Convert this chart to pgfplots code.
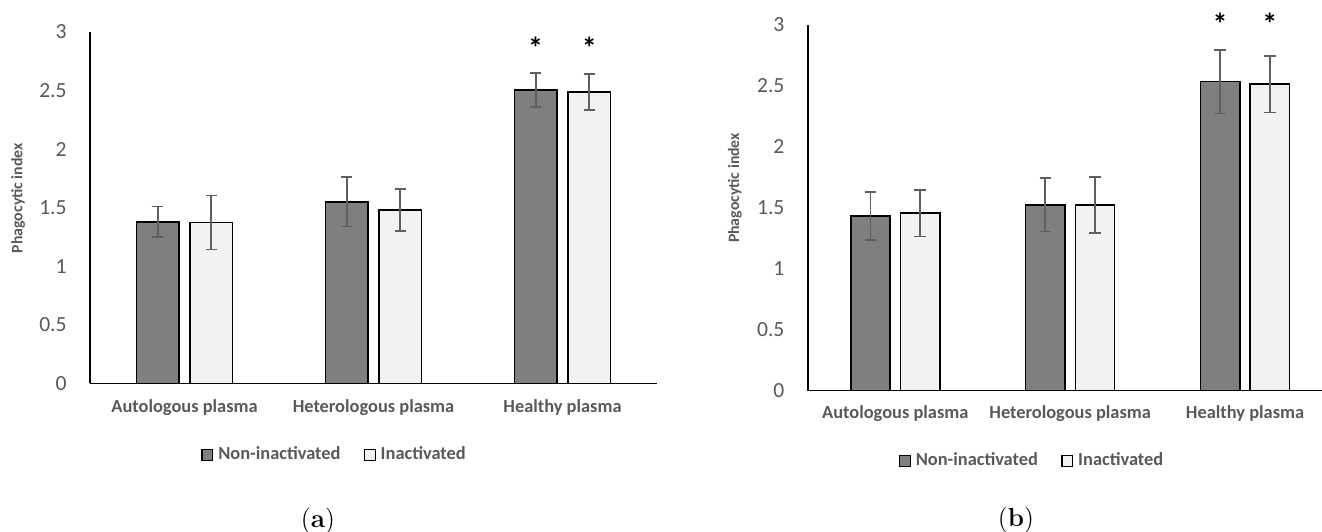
\documentclass[border=0pt]{standalone}
\usepackage{fontspec}
\setmainfont{Carlito}
\newfontfamily\capfont{Latin Modern Roman}
\usepackage{pgfplots}
\pgfplotsset{compat=1.18}
\definecolor{darkbar}{HTML}{7F7F7F}
\definecolor{lightbar}{HTML}{F2F2F2}
\definecolor{txt}{HTML}{595959}
\definecolor{errc}{HTML}{5F5F5F}

\tikzset{star/.style={anchor=base, font=\bfseries\fontsize{15}{16}\selectfont}}

\pgfplotsset{
  panel/.style={
    scale only axis, xmin=-0.5, ymin=0, ymax=3,
    axis lines*=left,
    axis line style={-, black, line width=0.8pt},
    major tick length=0pt,
    ytick={0,0.5,1,1.5,2,2.5,3},
    yticklabels={0,0.5,1,1.5,2,2.5,3},
    yticklabel style={anchor=east, inner sep=0pt, xshift=-11.5pt,
      font=\fontsize{10.8}{12}\selectfont, text=txt},
    xtick={0,1,2},
    xticklabels={Autologous plasma, Heterologous plasma, Healthy plasma},
    xticklabel style={anchor=base, inner sep=0pt,
      font=\bfseries\fontsize{9.2}{11}\selectfont, text=txt},
    ylabel={Phagocytic index},
    ylabel style={rotate=0, anchor=center, font=\bfseries\fontsize{7.9}{9}\selectfont, text=txt},
    ybar, bar width=0.225,
    clip=false,
    legend columns=2,
    legend image code/.code={\draw[#1, line width=0.6pt] (0pt,-2.675pt) rectangle (5.35pt,2.675pt);},
    legend style={draw=none, fill=none, inner sep=0pt, anchor=west,
      font=\bfseries\fontsize{9.2}{11}\selectfont, text=txt,
      nodes={inner sep=0pt},
      /tikz/every odd column/.append style={column sep=2.5pt},
      /tikz/column 2/.style={column sep=11.7pt}},
  },
  errst/.style={
    error bars/y dir=both, error bars/y explicit,
    error bars/error bar style={color=errc, line width=0.85pt},
    error bars/error mark options={rotate=90, color=errc, line width=0.85pt, mark size=2.9pt},
  },
  darkst/.style={fill=darkbar, draw=black, line width=0.8pt, bar shift=-0.142, errst},
  lightst/.style={fill=lightbar, draw=black, line width=0.8pt, bar shift=0.142, errst},
}

\begin{document}
\begin{tikzpicture}
\useasboundingbox (0,0) rectangle (661pt,265.5pt);

% ---------- panel (a) ----------
\begin{axis}[panel, at={(45pt,73.85pt)}, anchor=south west,
  width=283.5pt, height=175.65pt, xmax=2.5,
  xticklabel style={yshift=-14.6pt},
  ylabel style={at={(axis description cs:-0.1265,0.527)}},
  legend style={at={(axis description cs:0.1958,-0.2041)}}]
\addplot[darkst] coordinates {(0,1.38) +- (0,0.13) (1,1.55) +- (0,0.21) (2,2.505) +- (0,0.143)};
\addplot[lightst] coordinates {(0,1.373) +- (0,0.23) (1,1.481) +- (0,0.18) (2,2.487) +- (0,0.152)};
\legend{Non-inactivated, Inactivated}
\node[star] at (axis cs:1.858,2.776) {*};
\node[star] at (axis cs:2.142,2.776) {*};
\end{axis}

% ---------- panel (b) ----------
\begin{axis}[panel, at={(403.9pt,70.25pt)}, anchor=south west,
  width=257.1pt, height=182.75pt, xmax=2.44,
  xticklabel style={yshift=-13.75pt},
  ylabel style={at={(axis description cs:-0.142,0.554)}},
  legend style={at={(axis description cs:0.1764,-0.1929)}}]
\addplot[darkst] coordinates {(0,1.433) +- (0,0.198) (1,1.523) +- (0,0.219) (2,2.535) +- (0,0.262)};
\addplot[lightst] coordinates {(0,1.455) +- (0,0.19) (1,1.523) +- (0,0.23) (2,2.514) +- (0,0.231)};
\legend{Non-inactivated, Inactivated}
\node[star] at (axis cs:1.858,2.922) {*};
\node[star] at (axis cs:2.142,2.922) {*};
\end{axis}

\node[font=\capfont\fontsize{13}{15}\selectfont] at (159pt,4.8pt) {(\textbf{a})};
\node[font=\capfont\fontsize{13}{15}\selectfont] at (508pt,5.6pt) {(\textbf{b})};
\end{tikzpicture}
\end{document}
